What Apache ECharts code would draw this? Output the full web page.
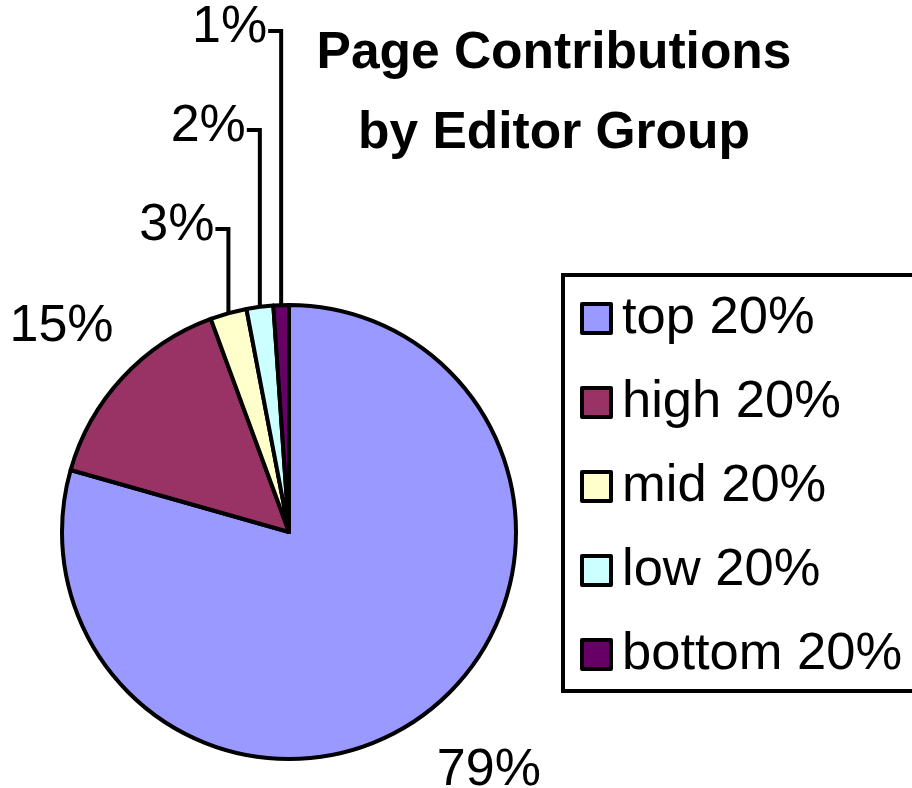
<!DOCTYPE html>
<html>
<head>
<meta charset="utf-8">
<script src="https://cdn.jsdelivr.net/npm/echarts@6/dist/echarts.min.js"></script>
<style>
html,body{margin:0;padding:0;background:#fff;}
#chart{width:912px;height:788px;}
</style>
</head>
<body>
<div id="chart"></div>
<script>
// ---- data ----
const categories = ['top 20%', 'high 20%', 'mid 20%', 'low 20%', 'bottom 20%'];
const values = [79.4, 15.0, 2.6, 1.9, 1.1];
const colors = ['#9999FF', '#993366', '#FFFFCC', '#CCFFFF', '#660066'];
const titleText = 'Page Contributions\nby Editor Group';

// ---- label layout (styling only) ----
// small slices: y of the horizontal leader segment; big slices: offset of label from slice edge
const leaderY = [null, null, 229, 130, 31];
const bigOffset = [[63, 58], [-61, -51], null, null, null];

const FONT = '"Liberation Sans", Arial, sans-serif';
const chart = echarts.init(document.getElementById('chart'), null, {renderer: 'canvas'});

const data = categories.map((c, i) => ({
  name: c,
  value: values[i],
  itemStyle: {color: colors[i]},
  labelLine: leaderY[i] === null ? {lineStyle: {width: 0, opacity: 0}} : {}
}));

chart.setOption({
  animation: false,
  backgroundColor: '#fff',
  title: {
    text: titleText,
    left: 549,
    top: 9,
    textAlign: 'center',
    textStyle: {
      fontFamily: FONT, fontWeight: 'bold', fontSize: 51.5, lineHeight: 80, color: '#000'
    }
  },
  legend: {
    orient: 'vertical',
    left: 563,
    top: 275,
    padding: [17, 30, 10, 17],
    itemGap: 31,
    itemWidth: 29,
    itemHeight: 29,
    icon: 'rect',
    borderColor: '#000',
    borderWidth: 4,
    backgroundColor: '#fff',
    borderRadius: 0,
    itemStyle: {borderColor: '#000', borderWidth: 4},
    textStyle: {
      fontFamily: FONT, fontSize: 52.5, lineHeight: 50, color: '#000', padding: [0, 0, 0, 6]
    },
    data: categories
  },
  series: [{
    type: 'pie',
    center: [289, 532],
    radius: 227,
    startAngle: 90,
    clockwise: true,
    avoidLabelOverlap: false,
    itemStyle: {borderColor: '#000', borderWidth: 4},
    label: {
      show: true,
      position: 'outside',
      formatter: function (p) { return Math.round(p.percent) + '%'; },
      fontFamily: FONT,
      fontSize: 52,
      color: '#000'
    },
    labelLine: {
      show: true,
      length: 10,
      length2: 10,
      lineStyle: {color: '#000', width: 4}
    },
    labelLayout: function (params) {
      const i = params.dataIndex;
      const pts = params.labelLinePoints;
      if (!pts) return {};
      const p0 = pts[0];
      if (leaderY[i] !== null) {
        const ly = leaderY[i];
        const x0 = p0[0];
        return {
          x: x0 - 14,
          y: ly - 3,
          align: 'right',
          verticalAlign: 'middle',
          labelLinePoints: [[x0, p0[1]], [x0, ly], [x0 - 13, ly]]
        };
      }
      const off = bigOffset[i];
      return {
        x: p0[0] + off[0],
        y: p0[1] + off[1],
        align: 'center',
        verticalAlign: 'middle',
        labelLinePoints: [[p0[0], p0[1]], [p0[0], p0[1]], [p0[0], p0[1]]]
      };
    },
    data: data
  }]
});
</script>
</body>
</html>
